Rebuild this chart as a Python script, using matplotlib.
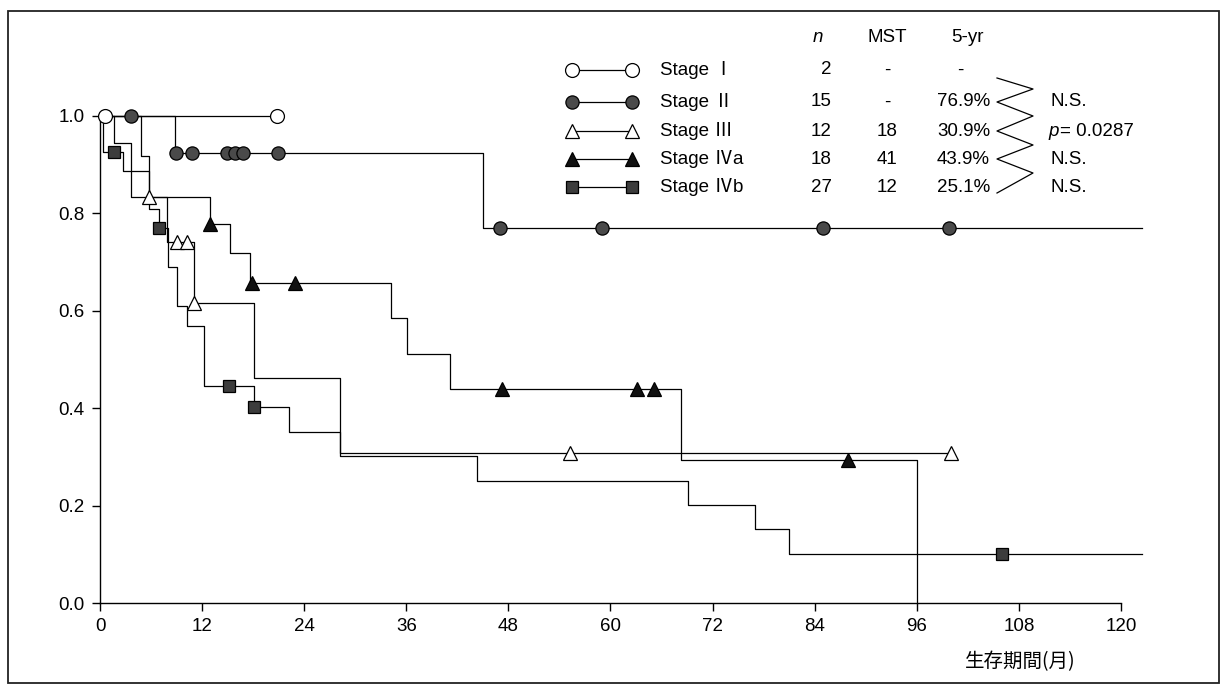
import numpy as np
import matplotlib.pyplot as plt
from matplotlib.lines import Line2D
from matplotlib.patches import Rectangle

W, H = 1224, 690

# Kaplan-Meier steps: event months and survival after each step
stage1_t = [0]
stage1_s = [1.0]
stage1_end = 20.8
stage1_cens = [0.6, 20.8]

stage2_t = [0, 8.8, 45.0]
stage2_s = [1.0, 0.923, 0.769]
stage2_end = 122.5
stage2_cens = [3.6, 8.9, 10.8, 14.9, 15.9, 16.8, 20.9, 47.0, 59.0, 85.0, 99.8]

stage3_t = [0, 4.8, 5.8, 7.9, 11.1, 18.1, 28.2]
stage3_s = [1.0, 0.917, 0.833, 0.741, 0.617, 0.463, 0.309]
stage3_end = 100.0
stage3_cens = [5.8, 9.1, 10.2, 11.1, 55.3, 100.0]

stage4a_t = [0, 1.7, 3.6, 12.9, 15.3, 17.6, 34.2, 36.1, 41.1, 68.3, 96.0]
stage4a_s = [1.0, 0.944, 0.833, 0.778, 0.718, 0.658, 0.585, 0.512, 0.439, 0.293, 0.0]
stage4a_end = 96.0
stage4a_cens = [12.9, 17.9, 22.9, 47.3, 63.1, 65.1, 87.9]

stage4b_t = [0, 0.3, 2.7, 5.8, 6.9, 8.0, 9.1, 10.2, 12.2, 18.1, 22.2, 28.2, 44.3, 69.1, 77.0, 81.0]
stage4b_s = [1.0, 0.926, 0.887, 0.810, 0.771, 0.690, 0.609, 0.568, 0.446, 0.402, 0.352,
             0.302, 0.251, 0.201, 0.151, 0.100]
stage4b_end = 122.5
stage4b_cens = [1.6, 6.9, 15.2, 18.1, 106.0]

# legend table
labels = ["Stage \u2160", "Stage \u2161", "Stage \u2162", "Stage \u2163a", "Stage \u2163b"]
n_vals = ["2", "15", "12", "18", "27"]
mst_vals = ["-", "-", "18", "41", "12"]
yr5_vals = ["-", "76.9%", "30.9%", "43.9%", "25.1%"]
tests = ["N.S.", None, "N.S.", "N.S."]  # None -> p value row
p_value = "0.0287"

x_ticks = list(range(0, 121, 12))
y_ticks = [0.0, 0.2, 0.4, 0.6, 0.8, 1.0]

styles = [
    dict(marker='o', ms=10, mfc='white', mec='k'),
    dict(marker='o', ms=9.5, mfc='#4a4a4a', mec='k'),
    dict(marker='^', ms=10, mfc='white', mec='k'),
    dict(marker='^', ms=9.5, mfc='#111111', mec='k'),
    dict(marker='s', ms=8, mfc='#3c3c3c', mec='k'),
]
curves = [
    (stage1_t, stage1_s, stage1_end, stage1_cens),
    (stage2_t, stage2_s, stage2_end, stage2_cens),
    (stage3_t, stage3_s, stage3_end, stage3_cens),
    (stage4a_t, stage4a_s, stage4a_end, stage4a_cens),
    (stage4b_t, stage4b_s, stage4b_end, stage4b_cens),
]

FONT = ['Liberation Sans', 'Noto Sans CJK JP', 'DejaVu Sans']
plt.rcParams['font.family'] = FONT

fig = plt.figure(figsize=(W / 100, H / 100), dpi=100)
px_month = 8.508
px_unit = 487.0
ax = fig.add_axes([100 / W, 87 / H, 123 * px_month / W, 1.1 * px_unit / H])
ax.set_xlim(0, 123)
ax.set_ylim(0, 1.1)

for (t, s, end, cens), st in zip(curves, styles):
    times = list(t) + [end]
    levels = list(s) + [s[-1]]
    ax.step(times, levels, where='post', color='k', lw=0.9, zorder=2, clip_on=False)
    idx = np.searchsorted(t, cens, side='right') - 1
    ax.plot(cens, np.asarray(s)[idx], linestyle='none', zorder=3, clip_on=False,
            mew=0.9, **st)

for side in ['top', 'right']:
    ax.spines[side].set_visible(False)
ax.spines['left'].set_bounds(0, 1)
ax.spines['bottom'].set_bounds(0, 120)
ax.spines['left'].set_linewidth(1.0)
ax.spines['bottom'].set_linewidth(1.0)
ax.set_xticks(x_ticks)
ax.set_yticks(y_ticks)
ax.set_yticklabels([f"{v:.1f}" for v in y_ticks])
ax.tick_params(direction='out', length=6, width=1, labelsize=13.5, pad=5)


def fx(x):
    return x / W


def fy(y):
    return 1 - y / H


fig.text(fx(1020), fy(662), "生存期間(月)", fontsize=14, ha='center', va='center',
         family=['Noto Sans CJK JP', 'DejaVu Sans'])

# legend table
fs = 13.5
fig.text(fx(818), fy(37), "n", fontsize=fs, style='italic', ha='center', va='center')
fig.text(fx(887), fy(37), "MST", fontsize=fs, ha='center', va='center')
fig.text(fx(967), fy(37), "5-yr", fontsize=fs, ha='center', va='center')

row_y = [70, 102, 131, 159, 187]
for i, (lab, st) in enumerate(zip(labels, styles)):
    y = fy(row_y[i])
    fig.add_artist(Line2D([fx(572), fx(632)], [y, y], color='k', lw=0.9, mew=0.9, **st))
    fig.text(fx(660), y, lab, fontsize=fs, ha='left', va='center')
    fig.text(fx(832), y, n_vals[i], fontsize=fs, ha='right', va='center')
    fig.text(fx(887), y, mst_vals[i], fontsize=fs, ha='center', va='center')
    if yr5_vals[i] == "-":
        fig.text(fx(960), y, yr5_vals[i], fontsize=fs, ha='center', va='center')
    else:
        fig.text(fx(990), y, yr5_vals[i], fontsize=fs, ha='right', va='center')

# zigzag bracket linking neighbouring stages
zx = [997, 1033, 997, 1033, 997, 1033, 997, 1033, 997]
zy = [78, 89, 102, 116, 131, 145, 159, 173, 193]
fig.add_artist(Line2D([fx(v) for v in zx], [fy(v) for v in zy], color='k', lw=0.9))

for i, txt in enumerate(tests):
    y = fy(row_y[i + 1])
    if txt is None:
        fig.text(fx(1048), y, "p", fontsize=fs, style='italic', ha='left', va='center')
        fig.text(fx(1060), y, "= " + p_value, fontsize=fs, ha='left', va='center')
    else:
        fig.text(fx(1050), y, txt, fontsize=fs, ha='left', va='center')

# outer frame
fig.add_artist(Rectangle((fx(8), fy(683)), (1219 - 8) / W, (683 - 11) / H,
                         transform=fig.transFigure, fill=False, lw=1.3, ec='#222222'))

fig.savefig('out.png', dpi=100)
